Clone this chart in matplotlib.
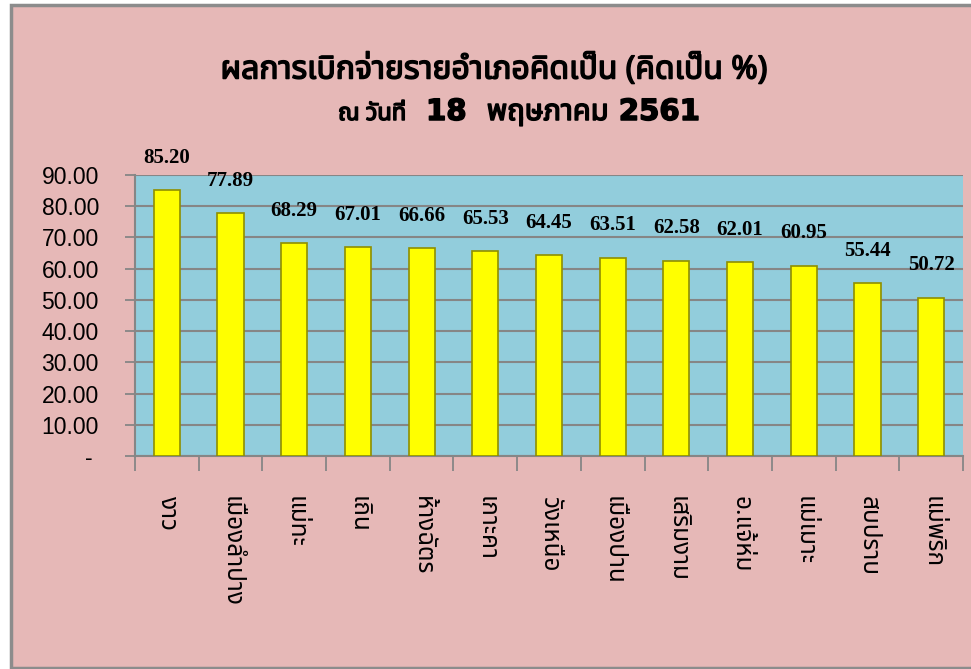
import matplotlib
matplotlib.use("Agg")
import matplotlib.pyplot as plt
import matplotlib.patheffects as pe
from matplotlib import font_manager
from matplotlib.ft2font import FT2Font
from matplotlib.patches import Rectangle

# data
districts = ["งาว", "เมืองลำปาง", "แม่ทะ", "เถิน", "ห้างฉัตร", "เกาะคา", "วังเหนือ",
             "เมืองปาน", "เสริมงาม", "อ.แจ้ห่ม", "แม่เมาะ", "สบปราบ", "แม่พริก"]
percent = [85.20, 77.89, 68.29, 67.01, 66.66, 65.53, 64.45, 63.51, 62.58, 62.01,
           60.95, 55.44, 50.72]
yticks = [0, 10, 20, 30, 40, 50, 60, 70, 80, 90]
ytick_labels = ["- ", "10.00", "20.00", "30.00", "40.00", "50.00", "60.00",
                "70.00", "80.00", "90.00"]

title_1 = "ผลการเบิกจ่ายรายอำเภอคิดเป็น (คิดเป็น %)"
title_2a = "ณ วันที่"
title_2b = "18  พฤษภาคม 2561"


def find_thai_family():
    # pick any installed font that has Thai glyphs
    preferred = ["Noto Sans Thai", "Noto Sans Thai UI", "Loma", "Garuda", "Tlwg Typo",
                 "Norasi", "Kinnari", "Sawasdee", "Waree", "Umpush", "Laksaman"]
    found = []
    for f in font_manager.fontManager.ttflist:
        try:
            cmap = FT2Font(f.fname).get_charmap()
        except Exception:
            continue
        if 0x0E01 in cmap and 0x0E33 in cmap:
            found.append(f.name)
    for p in preferred:
        if p in found:
            return p
    return found[0] if found else "DejaVu Sans"


thai = find_thai_family()
fat = [pe.withStroke(linewidth=1.1, foreground="black")]

fig = plt.figure(figsize=(9.71, 6.69), dpi=100)
fig.patch.set_facecolor("white")

# pink chart area with grey frame
fig.patches.append(Rectangle((11 / 971, 1 / 669), 1.0, 663 / 669, transform=fig.transFigure,
                             facecolor="#E6B8B7", edgecolor="#8C8C8C", linewidth=2.5,
                             zorder=-5))

ax = fig.add_axes([135 / 971, 1 - 456 / 669, (963 - 135) / 971, (456 - 175) / 669])
ax.set_facecolor("#92CDDC")

x = range(len(districts))
ax.bar(x, percent, width=0.41, color="#FFFF00", edgecolor="#8F8F00", linewidth=1.2,
       zorder=3)

for i, v in enumerate(percent):
    ax.annotate(f"{v:.2f}", (i, v), xytext=(0, 16), textcoords="offset points",
                ha="center", va="bottom", fontsize=15, fontweight="bold",
                family="Liberation Serif", annotation_clip=False)

ax.set_xlim(-0.5, len(districts) - 0.5)
ax.set_ylim(0, 90)
ax.set_yticks(yticks)
ax.set_yticklabels(ytick_labels, fontsize=16.5, family="Liberation Sans")
ax.grid(axis="y", color="#868686", linewidth=1.5, zorder=1)
ax.set_axisbelow(True)

ax.set_xticks([i - 0.5 for i in range(len(districts) + 1)])
ax.set_xticklabels([])
ax.set_xticks(list(x), minor=True)
ax.set_xticklabels(districts, minor=True, rotation=-90, fontsize=17.5, family=thai,
                   va="top", ha="center")
ax.tick_params(axis="x", which="major", length=11, color="#868686", width=1.3)
ax.tick_params(axis="x", which="minor", length=0, pad=29)
ax.tick_params(axis="y", length=7, color="#868686", width=1.3, pad=19)

for s in ["top", "right"]:
    ax.spines[s].set_visible(False)
for s in ["left", "bottom"]:
    ax.spines[s].set_color("#868686")
    ax.spines[s].set_linewidth(1.5)

fig.text(494 / 971, 1 - 70 / 669, title_1, ha="center", va="center", fontsize=23,
         fontweight="bold", family=thai, path_effects=fat)
fig.text(406 / 971, 1 - 114 / 669, title_2a, ha="right", va="center", fontsize=17,
         fontweight="bold", family=thai, path_effects=fat)
fig.text(426 / 971, 1 - 112 / 669, title_2b, ha="left", va="center", fontsize=21,
         fontweight="bold", family=["DejaVu Sans", thai], path_effects=fat)

fig.savefig("out.png", dpi=100, facecolor=fig.get_facecolor())
